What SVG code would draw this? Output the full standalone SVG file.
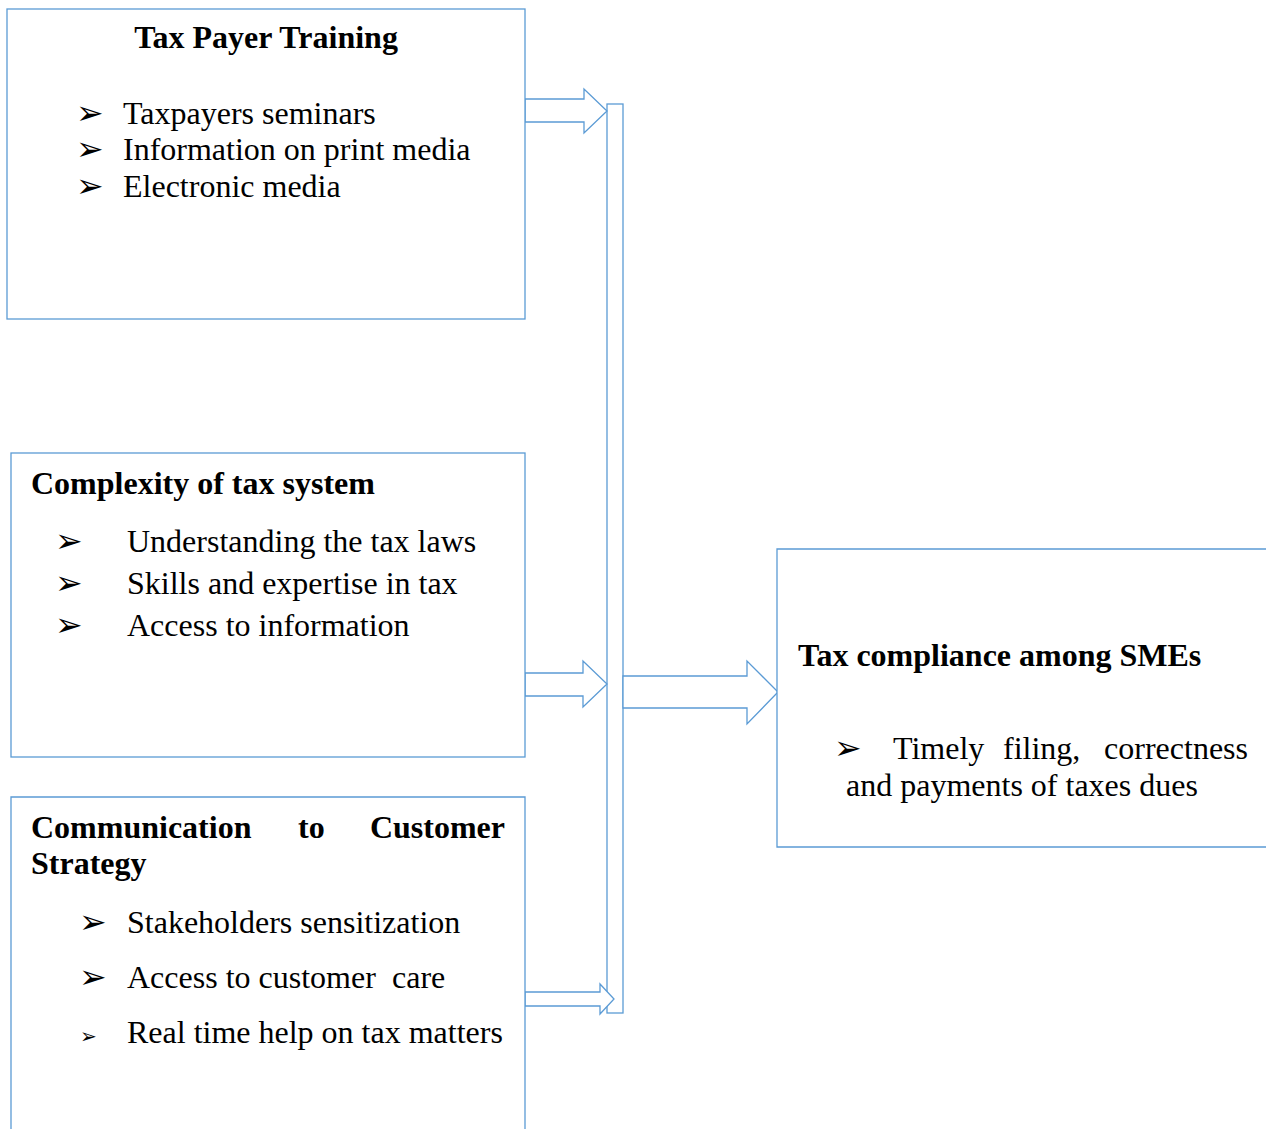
<svg xmlns="http://www.w3.org/2000/svg" width="1266" height="1129" viewBox="0 0 1266 1129">
<style>
.box{fill:#fff;stroke:#5b9bd5;stroke-width:1.3}
.arr{fill:#fff;stroke:#5b9bd5;stroke-width:1.3;stroke-linejoin:miter}
text{font-family:"Liberation Serif","Times New Roman",serif;font-size:32px;fill:#000}
.b{font-weight:bold}
.bul{font-family:"DejaVu Sans",sans-serif;font-size:33px}
</style>
<rect width="1266" height="1129" fill="#fff"/>
<g id="connectors">
<rect class="arr" x="607" y="104" width="16" height="909"/>
<polygon class="arr" points="525,99 584,99 584,89 607,111 584,133 584,122 525,122"/>
<polygon class="arr" points="525,673 583,673 583,661 607,684 583,707 583,696 525,696"/>
<polygon class="arr" points="525,992 600,992 600,984 614,999 600,1014 600,1006 525,1006"/>
<polygon class="arr" points="623,676 747,676 747,661 778,692 747,724 747,708 623,708"/>
</g>
<g id="node-training">
<rect class="box" x="7" y="9" width="518" height="310"/>
<text class="b" x="266" y="48" text-anchor="middle">Tax Payer Training</text>
<text class="bul" x="76" y="124">➢</text>
<text x="123" y="124">Taxpayers seminars</text>
<text class="bul" x="76" y="160">➢</text>
<text x="123" y="160">Information on print media</text>
<text class="bul" x="76" y="197">➢</text>
<text x="123" y="197">Electronic media</text>
</g>
<g id="node-complexity">
<rect class="box" x="11" y="453" width="514" height="304"/>
<text class="b" x="31" y="494">Complexity of tax system</text>
<text class="bul" x="55" y="552">➢</text>
<text x="127" y="552">Understanding the tax laws</text>
<text class="bul" x="55" y="594">➢</text>
<text x="127" y="594">Skills and expertise in tax</text>
<text class="bul" x="55" y="636">➢</text>
<text x="127" y="636">Access to information</text>
</g>
<g id="node-communication">
<path class="box" d="M11,1129 V797 H525 V1129"/>
<text class="b" x="31" y="838">Communication</text>
<text class="b" x="298" y="838">to</text>
<text class="b" x="505" y="838" text-anchor="end">Customer</text>
<text class="b" x="31" y="874">Strategy</text>
<text class="bul" x="79" y="933">➢</text>
<text x="127" y="933">Stakeholders sensitization</text>
<text class="bul" x="79" y="988">➢</text>
<text x="127" y="988">Access to customer</text>
<text x="392" y="988">care</text>
<text class="bul" x="80" y="1043" style="font-size:20px">➢</text>
<text x="127" y="1043">Real time help on tax matters</text>
</g>
<g id="node-compliance">
<path class="box" d="M1266,549 H777 V847 H1266"/>
<text class="b" x="798" y="666">Tax compliance among SMEs</text>
<text class="bul" x="834" y="759">➢</text>
<text x="893" y="759">Timely</text>
<text x="1003" y="759">filing,</text>
<text x="1248" y="759" text-anchor="end">correctness</text>
<text x="846" y="796">and payments of taxes dues</text>
</g>
</svg>
